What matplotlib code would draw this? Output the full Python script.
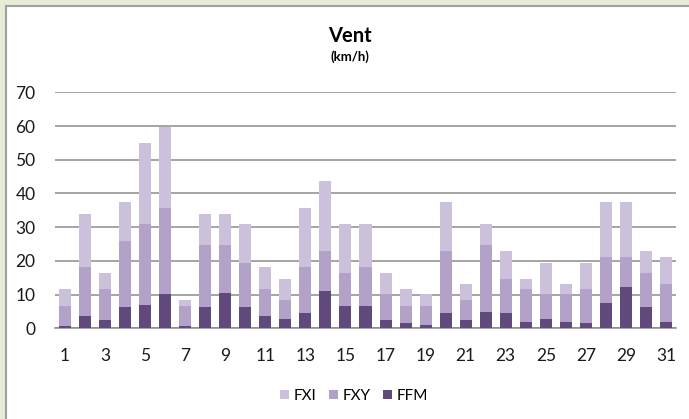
import matplotlib
matplotlib.use("Agg")
import matplotlib.pyplot as plt
from matplotlib.patches import Rectangle
from matplotlib.lines import Line2D
import numpy as np

days = list(range(1, 32))
tick_labels = [str(d) for d in range(1, 32, 2)]

# stacked segment values (km/h)
ffm = [0.7, 3.7, 2.5, 6.2, 7.0, 10.1, 0.7, 6.2, 10.5, 6.2,
       3.7, 2.8, 4.5, 11.0, 6.6, 6.6, 2.5, 1.5, 1.1, 4.5,
       2.5, 4.9, 4.5, 2.0, 2.8, 2.0, 1.5, 7.5, 12.2, 6.2, 2.0]
fxy = [5.9, 14.5, 9.3, 19.7, 24.0, 25.6, 5.9, 18.4, 14.1, 13.3,
       8.1, 5.6, 13.7, 11.8, 9.9, 11.6, 7.6, 5.1, 5.5, 18.3,
       5.9, 19.7, 10.2, 9.8, 7.3, 8.1, 10.3, 13.7, 9.0, 10.2, 11.1]
fxi = [5.2, 15.7, 4.6, 11.5, 24.0, 23.9, 1.8, 9.3, 9.3, 11.5,
       6.4, 6.3, 17.5, 21.0, 14.5, 12.8, 6.3, 5.2, 3.5, 14.6,
       4.7, 6.4, 8.1, 2.9, 9.3, 3.0, 7.6, 16.2, 16.2, 6.4, 8.1]

c_ffm = "#604A7B"
c_fxy = "#B3A2C7"
c_fxi = "#CCC1DA"

plt.rcParams['font.family'] = ['Lato', 'DejaVu Sans']

fig = plt.figure(figsize=(6.89, 4.19), dpi=100)
fig.patch.set_facecolor("#E6EDD7")
W, H = 689, 419
# white chart area with grey border (left and top visible)
fig.patches.append(Rectangle((5.5 / W, 0), 1, 1 - 6.5 / H, transform=fig.transFigure,
                             facecolor="white", edgecolor="none", zorder=-10))
fig.lines.append(Line2D([5.5 / W, 5.5 / W], [0, 1 - 6.5 / H], transform=fig.transFigure,
                        color="#A0A0A0", linewidth=1.5, zorder=-5))
fig.lines.append(Line2D([5.5 / W, 1], [1 - 6.5 / H, 1 - 6.5 / H], transform=fig.transFigure,
                        color="#A0A0A0", linewidth=1.5, zorder=-5))

ax = fig.add_axes([55 / W, 1 - 328.3 / H, (676 - 55) / W, (328.3 - 92.3) / H])
ax.set_facecolor("none")
ax.set_zorder(5)

x = np.array(days)
b1 = np.array(ffm)
b2 = b1 + np.array(fxy)
ax.bar(x, ffm, width=0.6, color=c_ffm, label="FFM", zorder=3)
ax.bar(x, fxy, width=0.6, bottom=b1, color=c_fxy, label="FXY", zorder=3)
ax.bar(x, fxi, width=0.6, bottom=b2, color=c_fxi, label="FXI", zorder=3)

ax.set_xlim(0.5, 31.5)
ax.set_ylim(0, 70)
ax.set_yticks(range(0, 71, 10))
ax.set_xticks(range(1, 32, 2))
ax.set_xticklabels(tick_labels)
ax.yaxis.grid(True, color="#8C8C8C", linewidth=1.1, zorder=0)
ax.set_axisbelow(True)
for s in ["top", "right", "left"]:
    ax.spines[s].set_visible(False)
ax.spines["bottom"].set_color("#8C8C8C")
ax.spines["bottom"].set_linewidth(1.1)
ax.tick_params(axis="both", length=0, labelsize=12.5, colors="#1A1A1A")
ax.tick_params(axis="y", pad=14)
ax.tick_params(axis="x", pad=14)

fig.text(350 / W, 1 - 36 / H, "Vent", ha="center", va="center", fontsize=14.5,
         fontweight="bold", color="black")
fig.text(350 / W, 1 - 57 / H, "(km/h)", ha="center", va="center", fontsize=9.5,
         fontweight="bold", color="black")

handles, labels = ax.get_legend_handles_labels()
leg = fig.legend(handles[::-1], labels[::-1], loc="center", bbox_to_anchor=(354 / W, 1 - 396 / H),
                 ncol=3, frameon=False, fontsize=11, handlelength=0.6, handleheight=0.6,
                 handletextpad=0.3, columnspacing=0.8)

fig.savefig("out.png", dpi=100, facecolor=fig.get_facecolor())
